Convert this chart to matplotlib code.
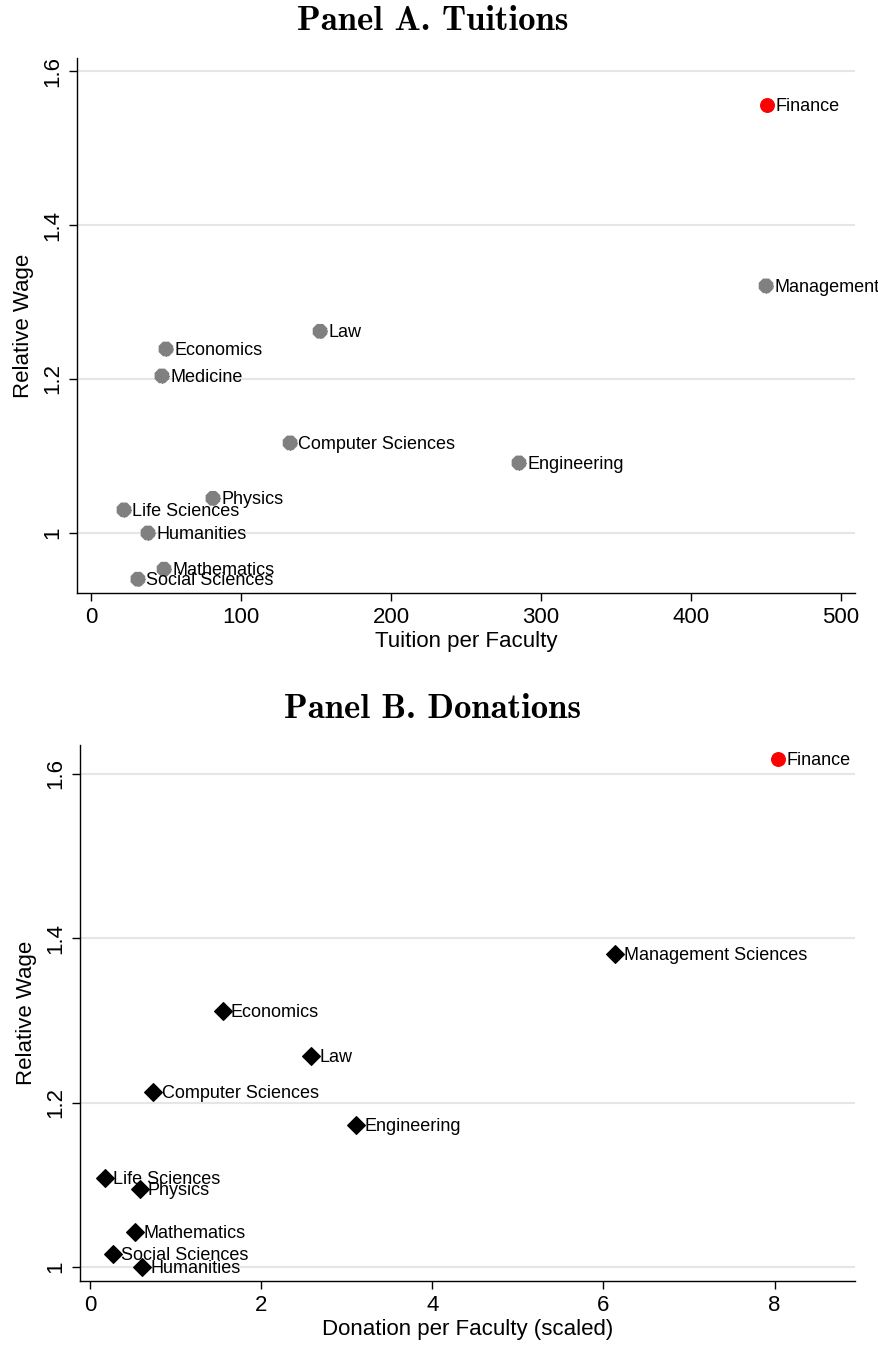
import matplotlib
matplotlib.use("Agg")
import matplotlib.pyplot as plt

plt.rcParams['font.family'] = ['Liberation Sans', 'DejaVu Sans']

# Panel A: tuition per faculty vs relative wage
fields_a = ["Management", "Law", "Economics", "Medicine", "Computer Sciences",
            "Engineering", "Physics", "Life Sciences", "Humanities",
            "Mathematics", "Social Sciences"]
tuition = [450, 152.7, 50, 47.3, 132.7, 285.3, 81.3, 22, 38, 48.7, 31.3]
wage_a = [1.321, 1.262, 1.239, 1.204, 1.117, 1.091, 1.045, 1.030, 1.000, 0.953, 0.940]
fin_tuition = 450.5
fin_wage_a = 1.556

# Panel B: donations per faculty vs relative wage
fields_b = ["Management Sciences", "Economics", "Law", "Computer Sciences",
            "Engineering", "Life Sciences", "Physics", "Mathematics",
            "Social Sciences", "Humanities"]
donation = [6.14, 1.55, 2.58, 0.74, 3.11, 0.175, 0.58, 0.53, 0.27, 0.61]
wage_b = [1.381, 1.311, 1.257, 1.213, 1.173, 1.108, 1.095, 1.043, 1.016, 1.000]
fin_donation = 8.04
fin_wage_b = 1.618

W, H = 879, 1345
fig = plt.figure(figsize=(W / 100, H / 100), dpi=100)


def ax_at(l, t, r, b):
    return fig.add_axes([l / W, 1 - b / H, (r - l) / W, (b - t) / H])


def style(ax):
    for s in ["top", "right"]:
        ax.spines[s].set_visible(False)
    ax.spines["left"].set_linewidth(1.0)
    ax.spines["bottom"].set_linewidth(1.0)
    ax.yaxis.grid(True, color="#e6e6e6", linewidth=1.5)
    ax.set_axisbelow(True)
    ax.tick_params(labelsize=16, length=6, width=1, pad=4)
    for lab in ax.get_yticklabels():
        lab.set_rotation(90)
        lab.set_va("center")


title_font = dict(family="cmb10", fontsize=25)
lab_size = 13

# ---- Panel A
ax1 = ax_at(77, 58, 855, 593)
# black cross peeking out behind the gray octagon, like the original marker
ax1.scatter(tuition, wage_a, marker="+", s=105, color="black", linewidths=1, zorder=2)
ax1.scatter(tuition, wage_a, marker="8", s=130, color="gray", edgecolors="none", zorder=3)
ax1.scatter([fin_tuition], [fin_wage_a], marker="o", s=95, color="red", zorder=3)
for name, x, y in zip(fields_a, tuition, wage_a):
    ax1.annotate(name, (x, y), xytext=(6, -1), textcoords="offset points",
                 va="center", fontsize=lab_size, annotation_clip=False)
ax1.annotate("Finance", (fin_tuition, fin_wage_a), xytext=(6, -1),
             textcoords="offset points", va="center", fontsize=lab_size)
ax1.set_xlim(-9.3, 509.3)
ax1.set_ylim(0.922, 1.617)
ax1.set_xticks([0, 100, 200, 300, 400, 500])
ax1.set_yticks([1, 1.2, 1.4, 1.6])
ax1.set_yticklabels(["1", "1.2", "1.4", "1.6"])
ax1.set_xlabel("Tuition per Faculty", fontsize=16, labelpad=2)
ax1.set_ylabel("Relative Wage", fontsize=16, labelpad=6)
style(ax1)
fig.text(433 / W, 1 - 22 / H, "Panel A. Tuitions", ha="center", va="center", **title_font)

# ---- Panel B
ax2 = ax_at(80, 745, 855, 1281)
ax2.scatter(donation, wage_b, marker="D", s=80, color="black", zorder=3)
ax2.scatter([fin_donation], [fin_wage_b], marker="o", s=95, color="red", zorder=3)
for name, x, y in zip(fields_b, donation, wage_b):
    ax2.annotate(name, (x, y), xytext=(6, -1), textcoords="offset points",
                 va="center", fontsize=lab_size)
ax2.annotate("Finance", (fin_donation, fin_wage_b), xytext=(6, -1),
             textcoords="offset points", va="center", fontsize=lab_size)
ax2.set_xlim(-0.117, 8.94)
ax2.set_ylim(0.983, 1.635)
ax2.set_xticks([0, 2, 4, 6, 8])
ax2.set_yticks([1, 1.2, 1.4, 1.6])
ax2.set_yticklabels(["1", "1.2", "1.4", "1.6"])
ax2.set_xlabel("Donation per Faculty (scaled)", fontsize=16, labelpad=2)
ax2.set_ylabel("Relative Wage", fontsize=16, labelpad=6)
style(ax2)
fig.text(433 / W, 1 - 710 / H, "Panel B. Donations", ha="center", va="center", **title_font)

fig.savefig("out.png", dpi=100)
